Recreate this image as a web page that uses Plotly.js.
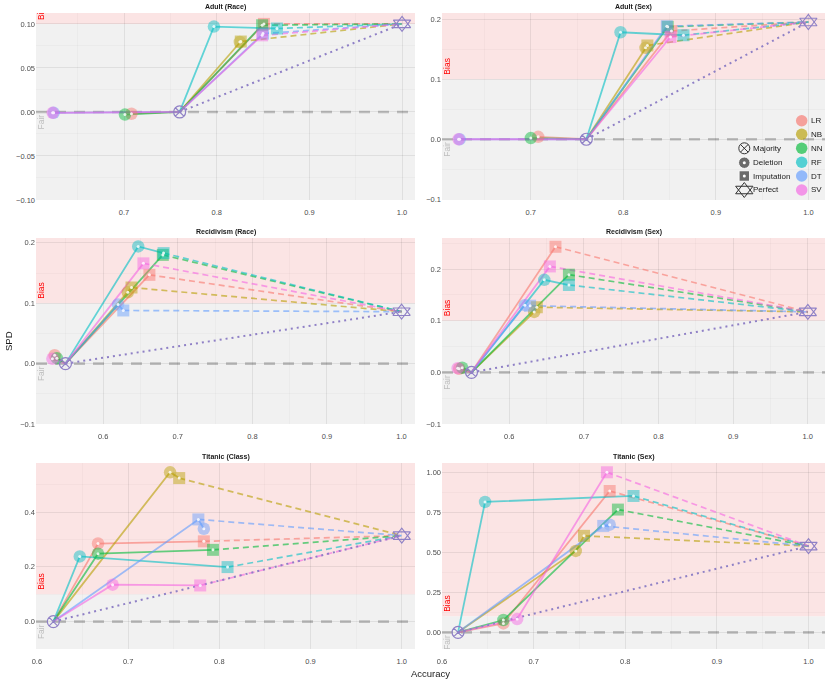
<!DOCTYPE html>
<html>
<head>
<meta charset="utf-8">
<script src="https://cdn.plot.ly/plotly-3.0.1.min.js"></script>
<style>body{margin:0;background:#fff;} #chart{width:831px;height:682px;}</style>
</head>
<body>
<div id="chart"></div>
<script>
// ---- classifiers
const classifiers = ['LR', 'NB', 'NN', 'RF', 'DT', 'SV'];
const classColors = ['#F8766D', '#B79F00', '#00BA38', '#00BFC4', '#619CFF', '#F564E3'];
const shapeNames = ['Majority', 'Deletion', 'Imputation', 'Perfect'];
const panelTitles = ['Adult (Race)', 'Adult (Sex)', 'Recidivism (Race)', 'Recidivism (Sex)', 'Titanic (Class)', 'Titanic (Sex)'];

// ---- Adult (Race)   [accuracy, spd]
const adultRaceMajority = [0.760, 0.0];
const adultRacePerfect = [1.0, 0.100];
const adultRaceDelAcc = [0.708, 0.825, 0.701, 0.797, 0.624, 0.623];
const adultRaceDelSpd = [-0.002, 0.0795, -0.003, 0.097, -0.001, -0.001];
const adultRaceImpAcc = [0.851, 0.826, 0.849, 0.865, 0.850, 0.849];
const adultRaceImpSpd = [0.100, 0.080, 0.0985, 0.0948, 0.089, 0.087];

// ---- Adult (Sex)
const adultSexMajority = [0.760, 0.0];
const adultSexPerfect = [1.0, 0.195];
const adultSexDelAcc = [0.708, 0.824, 0.700, 0.797, 0.623, 0.622];
const adultSexDelSpd = [0.004, 0.152, 0.002, 0.178, 0.000, 0.000];
const adultSexImpAcc = [0.852, 0.826, 0.848, 0.865, 0.847, 0.851];
const adultSexImpSpd = [0.180, 0.156, 0.187, 0.173, 0.188, 0.170];

// ---- Recidivism (Race)
const recidRaceMajority = [0.5495, 0.0];
const recidRacePerfect = [1.0, 0.086];
const recidRaceDelAcc = [0.535, 0.633, 0.538, 0.647, 0.620, 0.532];
const recidRaceDelSpd = [0.014, 0.118, 0.009, 0.194, 0.098, 0.008];
const recidRaceImpAcc = [0.662, 0.638, 0.680, 0.681, 0.627, 0.654];
const recidRaceImpSpd = [0.147, 0.126, 0.180, 0.183, 0.088, 0.166];

// ---- Recidivism (Sex)
const recidSexMajority = [0.5495, 0.0];
const recidSexPerfect = [1.0, 0.117];
const recidSexDelAcc = [0.533, 0.6335, 0.537, 0.647, 0.621, 0.531];
const recidSexDelSpd = [0.007, 0.117, 0.009, 0.179, 0.130, 0.008];
const recidSexImpAcc = [0.662, 0.637, 0.680, 0.680, 0.628, 0.6545];
const recidSexImpSpd = [0.243, 0.126, 0.189, 0.169, 0.129, 0.205];

// ---- Titanic (Class)
const titanicClassMajority = [0.618, 0.0];
const titanicClassPerfect = [1.0, 0.314];
const titanicClassDelAcc = [0.667, 0.746, 0.667, 0.647, 0.783, 0.683];
const titanicClassDelSpd = [0.285, 0.545, 0.248, 0.238, 0.339, 0.135];
const titanicClassImpAcc = [0.783, 0.756, 0.793, 0.809, 0.777, 0.779];
const titanicClassImpSpd = [0.293, 0.524, 0.262, 0.199, 0.373, 0.132];

// ---- Titanic (Sex)
const titanicSexMajority = [0.6175, 0.0];
const titanicSexPerfect = [1.0, 0.539];
const titanicSexDelAcc = [0.667, 0.746, 0.667, 0.647, 0.783, 0.682];
const titanicSexDelSpd = [0.056, 0.509, 0.077, 0.815, 0.673, 0.083];
const titanicSexImpAcc = [0.783, 0.755, 0.792, 0.809, 0.776, 0.780];
const titanicSexImpSpd = [0.883, 0.603, 0.767, 0.852, 0.665, 1.000];

const panelData = [
  [adultRaceMajority, adultRacePerfect, adultRaceDelAcc, adultRaceDelSpd, adultRaceImpAcc, adultRaceImpSpd],
  [adultSexMajority, adultSexPerfect, adultSexDelAcc, adultSexDelSpd, adultSexImpAcc, adultSexImpSpd],
  [recidRaceMajority, recidRacePerfect, recidRaceDelAcc, recidRaceDelSpd, recidRaceImpAcc, recidRaceImpSpd],
  [recidSexMajority, recidSexPerfect, recidSexDelAcc, recidSexDelSpd, recidSexImpAcc, recidSexImpSpd],
  [titanicClassMajority, titanicClassPerfect, titanicClassDelAcc, titanicClassDelSpd, titanicClassImpAcc, titanicClassImpSpd],
  [titanicSexMajority, titanicSexPerfect, titanicSexDelAcc, titanicSexDelSpd, titanicSexImpAcc, titanicSexImpSpd]
];

// ---- layout bits (pixels of the 831x682 page)
const W = 831, H = 682;
const colsPx = [[36, 415], [442, 825]];
const rowsPx = [[13, 200], [238, 424], [463, 649]];
const axisSetup = [
  {xr: [0.605, 1.014], yr: [-0.1, 0.1124], ydt: 0.05, yfmt: '.2f', bias: 'Bi'},
  {xr: [0.604, 1.018], yr: [-0.101, 0.21], ydt: 0.1, yfmt: '.1f', bias: 'Bias'},
  {xr: [0.510, 1.018], yr: [-0.1, 0.208], ydt: 0.1, yfmt: '.1f', bias: 'Bias'},
  {xr: [0.510, 1.023], yr: [-0.1, 0.26], ydt: 0.1, yfmt: '.1f', bias: 'Bias'},
  {xr: [0.599, 1.0145], yr: [-0.1, 0.579], ydt: 0.2, yfmt: '.1f', bias: 'Bias'},
  {xr: [0.600, 1.018], yr: [-0.104, 1.058], ydt: 0.25, yfmt: '.2f', bias: 'Bias'}
];

const FONT = 'Liberation Sans, Arial, sans-serif';
const PURPLE = '#8F80C6';
const traces = [];
const shapes = [];
const annotations = [];
const layout = {
  width: W, height: H,
  margin: {l: 0, r: 0, t: 0, b: 0},
  paper_bgcolor: '#ffffff',
  plot_bgcolor: 'rgba(0,0,0,0)',
  showlegend: false,
  font: {family: FONT, size: 8, color: '#4D4D4D'}
};

panelData.forEach((d, i) => {
  const [maj, perf, delAcc, delSpd, impAcc, impSpd] = d;
  const s = axisSetup[i];
  const n = i === 0 ? '' : String(i + 1);
  const xa = 'x' + n, ya = 'y' + n;
  const col = i % 2, row = Math.floor(i / 2);
  const cx = colsPx[col], ry = rowsPx[row];

  layout['xaxis' + n] = {
    domain: [cx[0] / W, cx[1] / W], range: s.xr, anchor: ya,
    dtick: 0.1, tick0: 0, tickformat: '.1f', ticks: '', showline: false, zeroline: false,
    ticklabelstandoff: 6,
    gridcolor: 'rgba(0,0,0,0.075)', gridwidth: 1,
    minor: {dtick: 0.05, tick0: 0, showgrid: true, gridcolor: 'rgba(0,0,0,0.04)', gridwidth: 0.6},
    tickfont: {size: 7.5, color: '#4D4D4D'}, fixedrange: true
  };
  layout['yaxis' + n] = {
    domain: [1 - ry[1] / H, 1 - ry[0] / H], range: s.yr, anchor: xa,
    dtick: s.ydt, tick0: 0, tickformat: s.yfmt, ticks: '', showline: false, zeroline: false,
    gridcolor: 'rgba(0,0,0,0.075)', gridwidth: 1,
    minor: {dtick: s.ydt / 2, tick0: 0, showgrid: true, gridcolor: 'rgba(0,0,0,0.04)', gridwidth: 0.6},
    tickfont: {size: 7.5, color: '#4D4D4D'}, fixedrange: true
  };

  // background bands: fair below 0.1, bias above
  shapes.push({type: 'rect', layer: 'below', xref: xa + ' domain', yref: ya, x0: 0, x1: 1, y0: s.yr[0], y1: 0.1,
    fillcolor: '#F1F1F1', line: {width: 0}});
  shapes.push({type: 'rect', layer: 'below', xref: xa + ' domain', yref: ya, x0: 0, x1: 1, y0: 0.1, y1: s.yr[1],
    fillcolor: '#FBE4E4', line: {width: 0}});
  shapes.push({type: 'line', layer: 'below', xref: xa + ' domain', yref: ya, x0: 0, x1: 1, y0: 0, y1: 0,
    line: {color: '#BDBDBD', width: 2.6, dash: '11px,8px'}});

  annotations.push({xref: 'paper', yref: 'paper', x: (cx[0] + cx[1]) / 2 / W, y: 1 - (ry[0] - 6) / H,
    text: '<b>' + panelTitles[i] + '</b>', showarrow: false, xanchor: 'center', yanchor: 'middle',
    font: {size: 7, color: '#1a1a1a'}});
  annotations.push({xref: 'paper', yref: ya, x: (cx[0] + 5) / W, y: 0.1, yshift: 2, text: s.bias, textangle: -90,
    showarrow: false, xanchor: 'center', yanchor: 'bottom', font: {size: 8.5, color: '#FF0000'}});
  annotations.push({xref: 'paper', yref: ya, x: (cx[0] + 5) / W, y: 0, yshift: -1, text: 'Fair', textangle: -90,
    showarrow: false, xanchor: 'center', yanchor: 'top', font: {size: 8.5, color: '#BEBEBE'}});

  // solid paths (sorted by accuracy) and dashed imputation -> perfect
  classifiers.forEach((c, k) => {
    const pts = [maj, [delAcc[k], delSpd[k]], [impAcc[k], impSpd[k]]].slice().sort((a, b) => a[0] - b[0]);
    traces.push({x: pts.map(q => q[0]), y: pts.map(q => q[1]), xaxis: xa, yaxis: ya, mode: 'lines',
      line: {color: classColors[k], width: 1.8}, opacity: 0.6, hoverinfo: 'skip'});
  });
  classifiers.forEach((c, k) => {
    traces.push({x: [impAcc[k], perf[0]], y: [impSpd[k], perf[1]], xaxis: xa, yaxis: ya, mode: 'lines',
      line: {color: classColors[k], width: 1.7, dash: '6px,4px'}, opacity: 0.6, hoverinfo: 'skip'});
  });
  traces.push({x: [maj[0], perf[0]], y: [maj[1], perf[1]], xaxis: xa, yaxis: ya, mode: 'lines',
    line: {color: PURPLE, width: 2, dash: '2px,4px'}, hoverinfo: 'skip'});

  // points
  classifiers.forEach((c, k) => {
    traces.push({x: [delAcc[k], impAcc[k]], y: [delSpd[k], impSpd[k]], xaxis: xa, yaxis: ya, mode: 'markers',
      marker: {symbol: ['circle', 'square'], size: [12.5, 12], color: classColors[k], line: {width: 0}},
      opacity: 0.65, name: c, hoverinfo: 'skip'});
  });
  traces.push({x: delAcc.concat(impAcc), y: delSpd.concat(impSpd), xaxis: xa, yaxis: ya, mode: 'markers',
    marker: {symbol: 'circle', size: 3, color: '#ffffff'}, opacity: 0.85, hoverinfo: 'skip'});
  traces.push({x: [maj[0]], y: [maj[1]], xaxis: xa, yaxis: ya, mode: 'markers',
    marker: {symbol: 'circle-x-open', size: 12, color: PURPLE, line: {width: 1.2, color: PURPLE}}, hoverinfo: 'skip'});
  traces.push({x: [perf[0], perf[0]], y: [perf[1], perf[1]], xaxis: xa, yaxis: ya, mode: 'markers',
    marker: {symbol: ['triangle-up-open', 'triangle-down-open'], size: 15, color: PURPLE, line: {width: 1.1, color: PURPLE}},
    hoverinfo: 'skip'});
});

// ---- legend drawn on a full-page overlay axis (pixel units)
layout.xaxis7 = {domain: [0, 1], range: [0, W], anchor: 'y7', visible: false, fixedrange: true};
layout.yaxis7 = {domain: [0, 1], range: [H, 0], anchor: 'x7', visible: false, fixedrange: true};

const colorRowsY = [120.7, 134.3, 148.3, 162.3, 176, 190];
classifiers.forEach((c, k) => {
  traces.push({x: [801.7], y: [colorRowsY[k]], xaxis: 'x7', yaxis: 'y7', mode: 'markers', cliponaxis: false,
    marker: {symbol: 'circle', size: 11.5, color: classColors[k]}, opacity: 0.65, hoverinfo: 'skip'});
  annotations.push({xref: 'paper', yref: 'paper', x: 808.5 / W, y: 1 - colorRowsY[k] / H, text: c,
    showarrow: false, xanchor: 'left', yanchor: 'middle', font: {size: 8, color: '#1a1a1a'}});
});
const shapeRowsY = [148.3, 162.7, 176, 190];
const DARK = '#333333';
traces.push({x: [744.3], y: [shapeRowsY[0]], xaxis: 'x7', yaxis: 'y7', mode: 'markers',
  marker: {symbol: 'circle-x-open', size: 11, color: DARK, line: {width: 1, color: DARK}}, hoverinfo: 'skip'});
traces.push({x: [744.3, 744.3], y: [shapeRowsY[1], shapeRowsY[2]], xaxis: 'x7', yaxis: 'y7', mode: 'markers',
  marker: {symbol: ['circle', 'square'], size: [11.5, 10.5], color: DARK}, hoverinfo: 'skip'});
traces.push({x: [744.3, 744.3], y: [shapeRowsY[1], shapeRowsY[2]], xaxis: 'x7', yaxis: 'y7', mode: 'markers',
  marker: {symbol: 'circle', size: 3, color: '#ffffff'}, hoverinfo: 'skip'});
traces.push({x: [744.3, 744.3], y: [shapeRowsY[3], shapeRowsY[3]], xaxis: 'x7', yaxis: 'y7', mode: 'markers',
  marker: {symbol: ['triangle-up-open', 'triangle-down-open'], size: 15, color: DARK, line: {width: 1, color: DARK}},
  hoverinfo: 'skip'});
shapeNames.forEach((nm, k) => {
  annotations.push({xref: 'paper', yref: 'paper', x: 750.5 / W, y: 1 - shapeRowsY[k] / H, text: nm,
    showarrow: false, xanchor: 'left', yanchor: 'middle', font: {size: 8, color: '#1a1a1a'}});
});

// axis titles
annotations.push({xref: 'paper', yref: 'paper', x: 430 / W, y: 1 - 673 / H, text: 'Accuracy', showarrow: false,
  xanchor: 'center', yanchor: 'middle', font: {size: 9.5, color: '#1a1a1a'}});
annotations.push({xref: 'paper', yref: 'paper', x: 8 / W, y: 1 - 341 / H, text: 'SPD', textangle: -90, showarrow: false,
  xanchor: 'center', yanchor: 'middle', font: {size: 9.5, color: '#1a1a1a'}});

layout.shapes = shapes;
layout.annotations = annotations;

Plotly.newPlot('chart', traces, layout, {displayModeBar: false, staticPlot: true});
</script>
</body>
</html>
